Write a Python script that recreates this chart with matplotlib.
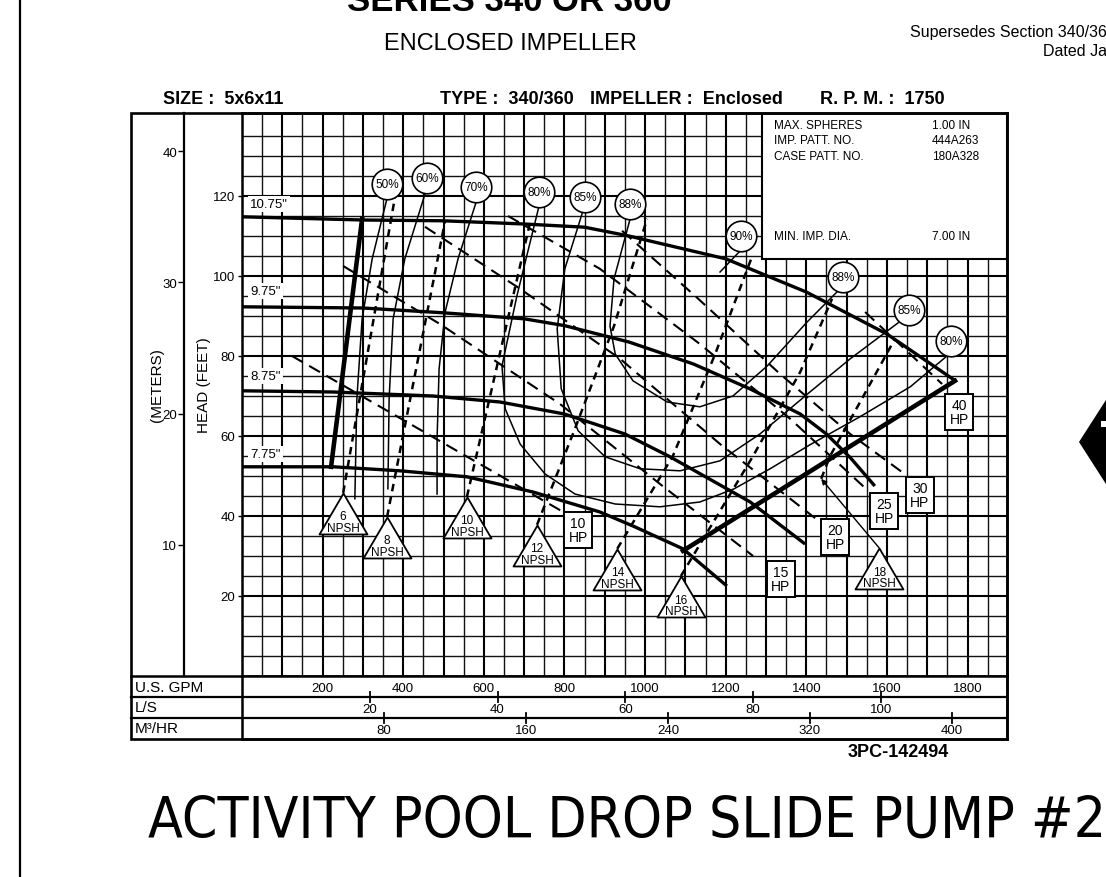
"""
Pump performance curve -- Series 340/360 enclosed impeller, 5x6x11 @ 1750 RPM.

Rebuilds the scanned catalogue sheet: impeller diameter curves, efficiency
islands, HP lines, NPSH lines and the flow conversion table underneath.
"""
from __future__ import annotations

import numpy as np
import matplotlib
matplotlib.use("Agg")
import matplotlib.pyplot as plt
from matplotlib import font_manager
from matplotlib.font_manager import FontProperties
from matplotlib.patches import Polygon, Rectangle

# ---------------------------------------------------------------------------
# Data (flow in US GPM, head in feet)
# ---------------------------------------------------------------------------

imp_labels = ['10.75"', '9.75"', '8.75"', '7.75"']
imp_label_head = [118.0, 96.3, 75.0, 55.5]

gpm_1075 = [0, 300, 500, 700, 850, 960, 1010, 1200, 1400, 1600, 1770]
head_1075 = [114.8, 114.0, 113.8, 113.0, 112.2, 110.0, 108.8, 104.3, 96.0, 85.5, 73.8]
gpm_975 = [0, 300, 500, 700, 800, 960, 1120, 1260, 1385, 1450, 1510, 1570]
head_975 = [92.3, 92.0, 90.8, 89.3, 87.6, 83.5, 78.0, 71.8, 65.5, 60.5, 54.5, 47.5]
gpm_875 = [0, 226, 474, 640, 800, 950, 1062, 1261, 1397]
head_875 = [71.3, 71.0, 70.0, 68.5, 65.5, 60.5, 54.8, 43.5, 33.0]
gpm_775 = [0, 226, 392, 558, 722, 888, 970, 1094, 1203]
head_775 = [52.3, 52.3, 51.3, 49.8, 46.0, 41.0, 37.5, 31.8, 22.5]

# heavy boundary lines (minimum flow on the left, end of curve on the right)
minflow_gpm = [298, 221]
minflow_head = [114.3, 52.3]
endcurve_gpm = [1094, 1769]
endcurve_head = [31.3, 73.8]

# efficiency lines
eff50_gpm = [360, 323, 298, 285, 280]
eff50_head = [119.5, 104.3, 89.3, 69.3, 44.3]
eff60_gpm = [454, 404, 375, 365, 362]
eff60_head = [120.5, 104.3, 89.3, 69.3, 46.8]
eff70_gpm = [581, 536, 504, 489, 484, 484]
eff70_head = [118.5, 104.3, 91.0, 76.8, 59.3, 45.5]
eff80_gpm = [737, 682, 645, 653, 690, 752, 826, 926, 1037, 1136, 1221, 1310, 1409, 1533, 1658, 1749]
eff80_head = [117.5, 95.0, 77.5, 66.8, 58.0, 50.5, 45.5, 43.0, 42.3, 43.5, 46.8, 51.8, 57.8, 64.8, 72.3, 80.0]
eff85_gpm = [846, 801, 782, 792, 834, 901, 988, 1087, 1186, 1285, 1409, 1509, 1628]
eff85_head = [116.3, 101.8, 86.8, 71.8, 61.3, 54.8, 51.8, 51.3, 53.8, 60.5, 71.0, 79.3, 88.3]
eff88_gpm = [963, 923, 913, 926, 970, 1055, 1136, 1218, 1303, 1402, 1476]
eff88_head = [114.3, 99.3, 87.5, 80.5, 73.8, 68.5, 67.3, 70.0, 77.5, 88.5, 96.0]
eff90_gpm = [1238, 1186]
eff90_head = [106.5, 101.0]

eff_circle_text = ["50%", "60%", "70%", "80%", "85%", "88%", "90%", "88%", "85%", "80%"]
eff_circle_gpm = [360, 459, 581, 737, 851, 963, 1238, 1491, 1655, 1759]
eff_circle_head = [123.0, 124.5, 122.3, 121.0, 119.8, 118.0, 110.0, 99.8, 91.5, 83.8]

# horsepower lines, each ends at its label box
hp10_gpm, hp10_head = [124, 797], [80.0, 41.0]
hp15_gpm, hp15_head = [251, 491, 789, 1037, 1268], [102.5, 88.0, 68.0, 48.0, 30.0]
hp20_gpm, hp20_head = [454, 690, 938, 1186, 1424], [112.3, 96.8, 79.3, 58.0, 39.3]
hp25_gpm, hp25_head = [660, 888, 1136, 1360, 1546], [115.0, 101.8, 83.0, 64.3, 47.0]
hp30_gpm, hp30_head = [943, 1132, 1335, 1509, 1640], [111.3, 94.3, 75.5, 60.5, 50.8]
hp40_gpm, hp40_head = [1546, 1737], [91.0, 73.0]

hp_values = [10, 15, 20, 25, 30, 40]
hp_box_gpm = [834, 1337, 1472, 1593, 1682, 1779]
hp_box_head = [36.5, 24.3, 34.8, 41.3, 45.3, 66.0]

# NPSH required lines, first point is the apex of the label triangle
npsh_values = [6, 8, 10, 12, 14, 16, 18]
npsh6_gpm, npsh6_head = [251, 380], [45.8, 120.0]
npsh8_gpm, npsh8_head = [360, 504], [39.8, 113.8]
npsh10_gpm, npsh10_head = [558, 715], [44.8, 113.5]
npsh12_gpm, npsh12_head = [732, 826, 923, 1005], [37.8, 61.8, 87.5, 114.3]
npsh14_gpm, npsh14_head = [931, 1069, 1174, 1266], [31.8, 55.0, 80.5, 105.0]
npsh16_gpm, npsh16_head = [1089, 1268, 1385, 1464], [25.0, 55.0, 76.0, 94.3]
npsh18_gpm, npsh18_head = [1437, 1459, 1538, 1620], [49.3, 55.0, 69.3, 84.3]
npsh18_tag_gpm, npsh18_tag_head = 1581, 32.0   # triangle sits away from its line

# scales
ft_ticks = [20, 40, 60, 80, 100, 120]
m_ticks = [10, 20, 30, 40]
gpm_ticks = [200, 400, 600, 800, 1000, 1200, 1400, 1600, 1800]
ls_ticks = [20, 40, 60, 80, 100]
m3h_ticks = [80, 160, 240, 320, 400]

info_rows = [("MAX. SPHERES", "1.00 IN"), ("IMP. PATT. NO.", "444A263"),
             ("CASE PATT. NO.", "180A328")]
min_dia = ("MIN. IMP. DIA.", "7.00 IN")

FT_PER_M = 3.2808
GPM_PER_LS = 15.850
GPM_PER_M3H = 4.4029

# ---------------------------------------------------------------------------
# Page geometry (pixels of the 1106 x 878 sheet)
# ---------------------------------------------------------------------------

W, H, DPI = 1106, 878, 100
X_MAX, Y_MAX = 1898, 140.75
BOX_GPM, BOX_HEAD = 1290, 104.25

plt.rcParams["font.family"] = ["Liberation Sans", "DejaVu Sans"]


def narrow_font() -> FontProperties:
    """Pick a condensed sans face if the machine has one."""
    for f in font_manager.fontManager.ttflist:
        tag = (f.name + " " + f.fname).lower()
        if ("narrow" in tag or "condensed" in tag) and "bold" not in tag \
                and "oblique" not in tag and "italic" not in tag and "mono" not in tag:
            return FontProperties(fname=f.fname)
    return FontProperties(family="Liberation Sans")


def frac(x0, y0, x1, y1):
    """Pixel box (top-left origin) -> figure fraction rect."""
    return [x0 / W, 1 - y1 / H, (x1 - x0) / W, (y1 - y0) / H]


fig = plt.figure(figsize=(W / DPI, H / DPI), dpi=DPI)
fig.patch.set_facecolor("white")

# ---------------------------------------------------------------------------
# Main chart
# ---------------------------------------------------------------------------

ax = fig.add_axes(frac(242, 114, 1007, 677))
ax.set_xlim(0, X_MAX)
ax.set_ylim(0, Y_MAX)
ax.set_xticks(np.arange(100, X_MAX, 100))
ax.set_xticks(np.arange(50, X_MAX, 100), minor=True)
ax.set_yticks(ft_ticks)
ax.set_yticks([v for v in np.arange(5, Y_MAX, 5) if v % 20], minor=True)
ax.tick_params(axis="x", which="both", length=0, labelbottom=False)
ax.tick_params(axis="y", which="major", direction="out", length=3, width=1,
               pad=2, labelsize=9.5)
ax.tick_params(axis="y", which="minor", length=0)
ax.grid(which="major", color="black", lw=1.5)
ax.grid(which="minor", color="#111111", lw=1.0)
ax.set_axisbelow(True)
for s in ax.spines.values():
    s.set_linewidth(1.8)

sec = ax.secondary_yaxis(-58 / 765, functions=(lambda f: f / FT_PER_M,
                                               lambda m: m * FT_PER_M))
sec.set_yticks(m_ticks)
sec.tick_params(direction="out", length=4, width=1, labelsize=9.5, pad=1)
sec.spines["left"].set_linewidth(1.6)

ax.add_patch(Rectangle((BOX_GPM, BOX_HEAD), X_MAX - BOX_GPM, Y_MAX - BOX_HEAD,
                       fc="white", ec="black", lw=1.5, zorder=2.5))

# efficiency lines (thin)
for g, h in [(eff50_gpm, eff50_head), (eff60_gpm, eff60_head), (eff70_gpm, eff70_head),
             (eff80_gpm, eff80_head), (eff85_gpm, eff85_head), (eff88_gpm, eff88_head),
             (eff90_gpm, eff90_head)]:
    ax.plot(g, h, color="black", lw=1.1, zorder=3)

# HP lines (long dashes)
for g, h in [(hp10_gpm, hp10_head), (hp15_gpm, hp15_head), (hp20_gpm, hp20_head),
             (hp25_gpm, hp25_head), (hp30_gpm, hp30_head), (hp40_gpm, hp40_head)]:
    ax.plot(g, h, color="black", lw=1.5, ls=(0, (6, 3.5)), zorder=3)

# NPSH lines (short heavy dashes)
npsh_lines = [(npsh6_gpm, npsh6_head), (npsh8_gpm, npsh8_head), (npsh10_gpm, npsh10_head),
              (npsh12_gpm, npsh12_head), (npsh14_gpm, npsh14_head),
              (npsh16_gpm, npsh16_head), (npsh18_gpm, npsh18_head)]
for g, h in npsh_lines:
    ax.plot(g, h, color="black", lw=1.8, ls=(0, (3, 2.2)), zorder=3)

# impeller curves and boundaries
for g, h in [(gpm_1075, head_1075), (gpm_975, head_975), (gpm_875, head_875),
             (gpm_775, head_775)]:
    ax.plot(g, h, color="black", lw=2.4, zorder=4, solid_capstyle="butt")
ax.plot(minflow_gpm, minflow_head, color="black", lw=3.3, zorder=4)
ax.plot(endcurve_gpm, endcurve_head, color="black", lw=3.3, zorder=4)

for lab, h in zip(imp_labels, imp_label_head):
    ax.text(20, h, lab, fontsize=9.5, ha="left", va="center", zorder=5,
            bbox=dict(fc="white", ec="none", pad=1.5))

# efficiency circles
ax.plot(eff_circle_gpm, eff_circle_head, "o", ms=22, mfc="white", mec="black",
        mew=1.2, zorder=6)
for s, g, h in zip(eff_circle_text, eff_circle_gpm, eff_circle_head):
    ax.text(g, h, s, fontsize=8.5, ha="center", va="center", zorder=7)

# HP boxes
for v, g, h in zip(hp_values, hp_box_gpm, hp_box_head):
    ax.text(g, h, f"{v}\nHP", fontsize=10, ha="center", va="center",
            linespacing=0.95, zorder=7,
            bbox=dict(boxstyle="square,pad=0.32", fc="white", ec="black", lw=1.4))

# NPSH triangles, marker anchored at its apex
tri = [(0, 0), (-24, -41), (24, -41), (0, 0)]
tri_pos = [(g[0], h[0]) for g, h in npsh_lines[:-1]] + [(npsh18_tag_gpm, npsh18_tag_head)]
for v, (g, h) in zip(npsh_values, tri_pos):
    ax.plot(g, h, marker=tri, ms=59, mfc="white", mec="black", mew=1.3, zorder=7)
    ax.annotate(str(v), (g, h), xytext=(0, -17), textcoords="offset points",
                ha="center", va="center", fontsize=8.5, zorder=8)
    ax.annotate("NPSH", (g, h), xytext=(0, -25), textcoords="offset points",
                ha="center", va="center", fontsize=8.5, zorder=8)
ax.annotate("", xy=(npsh18_gpm[0], npsh18_head[0]),
            xytext=(npsh18_tag_gpm, npsh18_tag_head),
            arrowprops=dict(arrowstyle="-|>", color="black", lw=1.0,
                            mutation_scale=8, shrinkA=0, shrinkB=0), zorder=3)

# ---------------------------------------------------------------------------
# Flow conversion table
# ---------------------------------------------------------------------------

tax = fig.add_axes(frac(242, 677, 1007, 740))
tax.set_xlim(0, X_MAX)
tax.set_ylim(0, 3)
tax.set_xticks([])
tax.set_yticks([])
for s in tax.spines.values():
    s.set_linewidth(1.8)
row_tf = tax.get_yaxis_transform()
for yv in (1, 2):
    tax.plot([-111 / 765, 1], [yv, yv], transform=row_tf, color="black",
             lw=1.6, clip_on=False)
for lab, yv in [("U.S. GPM", 2.48), ("L/S", 1.52), ("M\u00b3/HR", 0.52)]:
    tax.text(-107 / 765, yv, lab, transform=row_tf, ha="left", va="center",
             fontsize=11)
for g in gpm_ticks:
    tax.text(g, 2.45, str(g), ha="center", va="center", fontsize=9.5)
for v in ls_ticks:
    g = v * GPM_PER_LS
    tax.plot([g, g], [1.78, 2.22], color="black", lw=1.3)
    tax.text(g, 1.42, str(v), ha="center", va="center", fontsize=9.5)
for v in m3h_ticks:
    g = v * GPM_PER_M3H
    tax.plot([g, g], [0.78, 1.22], color="black", lw=1.3)
    tax.text(g, 0.42, str(v), ha="center", va="center", fontsize=9.5)

# ---------------------------------------------------------------------------
# Sheet furniture (pixel overlay)
# ---------------------------------------------------------------------------

ov = fig.add_axes([0, 0, 1, 1])
ov.set_xlim(0, W)
ov.set_ylim(H, 0)
ov.axis("off")
ov.patch.set_alpha(0)

ov.add_patch(Rectangle((131, 114), 1007 - 131, 740 - 114, fill=False,
                       ec="black", lw=1.9))
ov.plot([131, 242], [677, 677], color="black", lw=1.8)
ov.plot([20, 20], [0, H], color="black", lw=1.6)

ov.text(204, 385, "HEAD (FEET)", rotation=90, ha="center", va="center", fontsize=11)
ov.text(157, 385, "(METERS)", rotation=90, ha="center", va="center", fontsize=11)

bold = dict(fontsize=13, fontweight="bold", va="center", ha="left")
ov.text(163, 100, "SIZE :  5x6x11", **bold)
ov.text(440, 100, "TYPE :  340/360", **bold)
ov.text(590, 100, "IMPELLER :  Enclosed", **bold)
ov.text(820, 100, "R. P. M. :  1750", **bold)

for i, (k, v) in enumerate(info_rows):
    ov.text(774, 126 + 15.5 * i, k, fontsize=8.5, va="center")
    ov.text(932, 126 + 15.5 * i, v, fontsize=8.5, va="center")
ov.text(774, 237, min_dia[0], fontsize=8.5, va="center")
ov.text(932, 237, min_dia[1], fontsize=8.5, va="center")

ov.text(509, 11, "SERIES 340 OR 360", fontsize=25, fontweight="bold",
        ha="center", va="baseline")
ov.text(510, 44, "ENCLOSED IMPELLER", fontsize=17, ha="center", va="center")
ov.text(1107, 33, "Supersedes Section 340/36", fontsize=11.5, ha="right", va="center")
ov.text(1107, 52, "Dated Ja", fontsize=11.5, ha="right", va="center")
ov.text(898, 753, "3PC-142494", fontsize=13, fontweight="bold", ha="center",
        va="center")

ov.add_patch(Polygon([(1079, 443), (1113, 390), (1147, 443), (1113, 496)],
                     closed=True, fc="black", ec="none"))
ov.add_patch(Rectangle((1101, 422), 6, 6, fc="white", ec="none"))

title = ov.text(148, 822, "ACTIVITY POOL DROP SLIDE PUMP #2", fontsize=50,
                fontproperties=narrow_font(), ha="left", va="center")
title.set_fontsize(50)
fig.canvas.draw()
bb = title.get_window_extent(fig.canvas.get_renderer())
title.set_fontsize(50 * 958 / bb.width)

fig.savefig("out.png", dpi=DPI)
